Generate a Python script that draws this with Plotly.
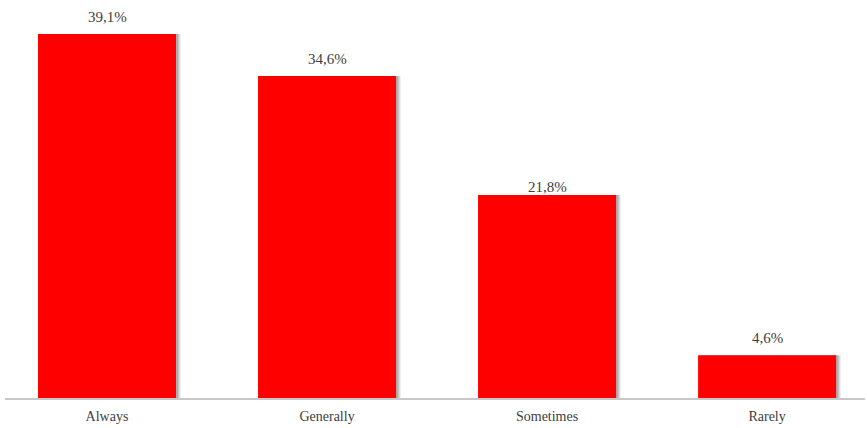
import plotly.graph_objects as go

categories = ["Always", "Generally", "Sometimes", "Rarely"]
values = [39.1, 34.6, 21.8, 4.6]
labels = ["39,1%", "34,6%", "21,8%", "4,6%"]

SERIF = "'Times New Roman', Times, 'Liberation Serif', 'DejaVu Serif', serif"
px = 1 / 220.0
bw = 138 * px

fig = go.Figure()

for shift, alpha in [(5, 0.06), (4, 0.08), (3, 0.10), (2, 0.12)]:
    fig.add_trace(go.Bar(
        x=categories, y=values, width=bw, offset=-bw / 2 + shift * px,
        marker=dict(color=f"rgba(0,0,0,{alpha})", line=dict(width=0)),
        hoverinfo="skip", showlegend=False,
    ))
fig.add_trace(go.Bar(
    x=categories, y=values, width=bw, offset=-bw / 2,
    marker=dict(color="#ff0000", line=dict(width=0)),
    showlegend=False,
))

for c, v, t in zip(categories, values, labels):
    fig.add_annotation(
        x=c, y=v, text=t, showarrow=False, yanchor="bottom",
        yshift=7 if v > 25 or v < 10 else -2,
        font=dict(family=SERIF, size=15, color="#404040"),
    )

fig.update_layout(
    width=867, height=428,
    margin=dict(l=5, r=2, t=0, b=30),
    paper_bgcolor="white", plot_bgcolor="white",
    barmode="overlay",
    font=dict(family=SERIF),
    xaxis=dict(
        range=[-0.4636, 3.445], showgrid=False, zeroline=False,
        showline=True, linecolor="#c8c8c8", linewidth=2,
        ticks="", tickfont=dict(family=SERIF, size=14, color="#404040"),
        ticklabelstandoff=4,
    ),
    yaxis=dict(range=[0, 42.75], visible=False, showgrid=False),
)

fig.write_html("out.html")
